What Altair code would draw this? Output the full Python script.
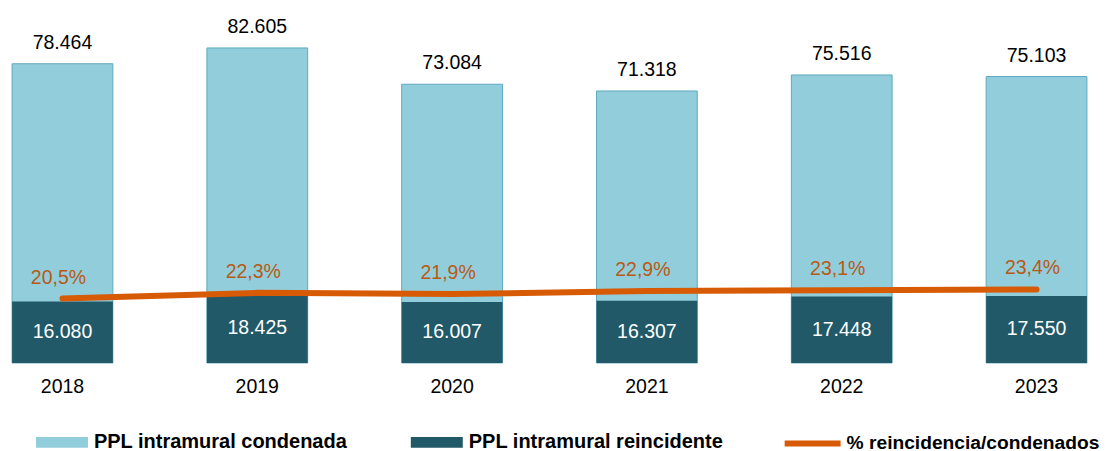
import altair as alt
import pandas as pd

years = ["2018", "2019", "2020", "2021", "2022", "2023"]
condenada = [78464, 82605, 73084, 71318, 75516, 75103]
reincidente = [16080, 18425, 16007, 16307, 17448, 17550]
pct = [20.5, 22.3, 21.9, 22.9, 23.1, 23.4]

series_names = ["PPL intramural condenada", "PPL intramural reincidente"]
line_name = "% reincidencia/condenados"


def miles(v):
    return f"{v:,}".replace(",", ".")


def porc(v):
    return f"{v:.1f}".replace(".", ",") + "%"


df = pd.DataFrame({
    "year": years,
    "cond": condenada,
    "rein": reincidente,
    "pct": pct,
    "cond_lbl": [miles(v) for v in condenada],
    "rein_lbl": [miles(v) for v in reincidente],
    "pct_lbl": [porc(v) for v in pct],
})

FONT = "Liberation Sans"
W = 1083.5
H = 355

x = alt.X(
    "year:N", sort=years,
    scale=alt.Scale(paddingInner=0.4828, paddingOuter=0.021),
    axis=alt.Axis(title=None, domain=False, ticks=False, tickSize=0, grid=False,
                  labelAngle=0, labelFont=FONT, labelFontSize=19.5,
                  labelColor="#000000", labelPadding=15),
)
yscale = alt.Scale(domain=[0, 93053], nice=False, zero=True)
pscale = alt.Scale(domain=[0, 112.9], nice=False, zero=True)

fill_scale = alt.Scale(domain=series_names, range=["#92CDDC", "#215968"])
fill_legend = alt.Legend(
    title=None, orient="none", legendX=28, legendY=408.5, direction="horizontal",
    symbolType="M-1,-0.21H1V0.21H-1Z", symbolSize=2704, symbolStrokeWidth=0,
    labelFont=FONT, labelFontSize=20, labelFontWeight="bold", labelColor="#000000",
    labelOffset=6, columnPadding=63, padding=0, labelLimit=0,
)
stroke_scale = alt.Scale(domain=[line_name], range=["#D75B05"])
stroke_legend = alt.Legend(
    title=None, orient="none", legendX=774, legendY=404.5, direction="horizontal",
    symbolType="stroke", symbolSize=3136, symbolStrokeWidth=6,
    labelFont=FONT, labelFontSize=19.2, labelFontWeight="bold", labelColor="#000000",
    labelOffset=3, padding=0, labelLimit=0,
)

base = alt.Chart(df)

light = base.transform_calculate(serie=f"'{series_names[0]}'").mark_bar(
    stroke="#5DA9BF", strokeWidth=1
).encode(
    x=x,
    y=alt.Y("cond:Q", scale=yscale, axis=None),
    fill=alt.Fill("serie:N", scale=fill_scale, legend=fill_legend),
)

dark = base.transform_calculate(serie=f"'{series_names[1]}'").mark_bar().encode(
    x=x,
    y=alt.Y("rein:Q", scale=yscale, axis=None),
    fill=alt.Fill("serie:N", scale=fill_scale, legend=fill_legend),
)

top_lbl = base.mark_text(
    font=FONT, fontSize=19.5, color="#000000", baseline="alphabetic", dy=-15
).encode(
    x=x,
    y=alt.Y("cond:Q", scale=yscale, axis=None),
    text="cond_lbl:N",
)

dark_lbl = base.transform_calculate(mid="datum.rein / 2").mark_text(
    font=FONT, fontSize=19.5, color="#FFFFFF", baseline="middle"
).encode(
    x=x,
    y=alt.Y("mid:Q", scale=yscale, axis=None),
    text="rein_lbl:N",
)

line = base.transform_calculate(serie2=f"'{line_name}'").mark_line(
    strokeWidth=6, strokeCap="round", strokeJoin="round"
).encode(
    x=x,
    y=alt.Y("pct:Q", scale=pscale, axis=None),
    stroke=alt.Stroke("serie2:N", scale=stroke_scale, legend=stroke_legend),
)

pct_lbl = base.mark_text(
    font=FONT, fontSize=19.5, color="#B85A14", baseline="alphabetic", dy=-15, dx=-4
).encode(
    x=x,
    y=alt.Y("pct:Q", scale=pscale, axis=None),
    text="pct_lbl:N",
)

chart = alt.layer(light, dark, dark_lbl, top_lbl, line, pct_lbl).resolve_scale(
    y="independent"
).properties(
    width=W, height=H, padding=0
).configure(font=FONT).configure_view(stroke=None)

chart.save("out.html", embed_options={"renderer": "svg", "actions": False})
